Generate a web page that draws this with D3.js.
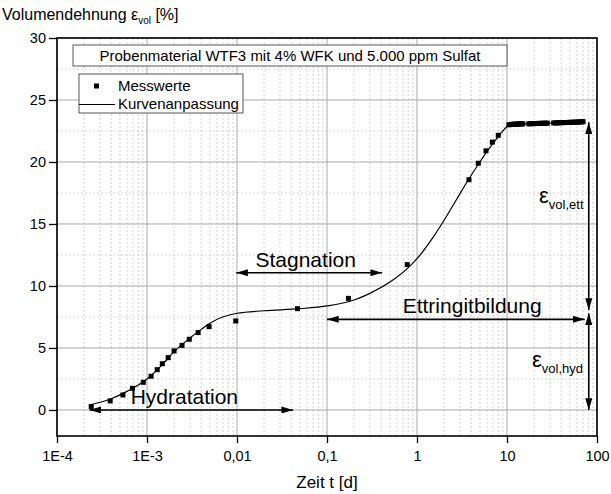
<!DOCTYPE html>
<html>
<head>
<meta charset="utf-8">
<script src="https://cdn.jsdelivr.net/npm/d3@7"></script>
<style>
body { margin: 0; background: #fff; }
text { font-family: "Liberation Sans", Arial, sans-serif; fill: #000; }
</style>
</head>
<body>
<svg id="chart" width="611" height="494"></svg>
<script>
// x ticks (days, log) and their labels
var xTicks = [1e-4, 1e-3, 0.01, 0.1, 1, 10, 100];
var xTickLabels = ["1E-4", "1E-3", "0,01", "0,1", "1", "10", "100"];
var yTicks = [0, 5, 10, 15, 20, 25, 30];

// Messwerte
var measT = [2.4e-4, 3.9e-4, 5.4e-4, 6.9e-4, 9.1e-4, 1.11e-3, 1.30e-3, 1.48e-3, 1.72e-3, 2.0e-3,
             2.45e-3, 2.95e-3, 3.7e-3, 4.9e-3, 9.7e-3, 0.047, 0.173, 0.78, 3.78, 4.8, 5.84, 6.87, 8.0,
             10.5, 11, 11.5, 12, 12.5, 13, 13.5, 14, 14.5, 15,
             17.5, 18.2, 19, 19.8, 20.6, 21.4, 22.2, 23, 24, 25, 26, 27, 28,
             33, 34.5, 36, 37.5, 39, 41, 43, 45, 47, 49, 51, 53, 55, 57.5, 60, 62.5, 65, 67.5, 70];
var measY = [0.27, 0.73, 1.21, 1.75, 2.23, 2.72, 3.25, 3.73, 4.22, 4.76,
             5.21, 5.70, 6.24, 6.72, 7.18, 8.17, 9.0, 11.72, 18.57, 19.9, 20.9, 21.6, 22.15,
             23.0, 23.02, 23.04, 23.05, 23.05, 23.06, 23.06, 23.07, 23.07, 23.08,
             23.08, 23.09, 23.09, 23.1, 23.1, 23.1, 23.11, 23.11, 23.12, 23.12, 23.12, 23.13, 23.13,
             23.15, 23.15, 23.16, 23.16, 23.17, 23.17, 23.18, 23.18, 23.19, 23.19, 23.2, 23.2, 23.21, 23.21, 23.22, 23.22, 23.23, 23.24, 23.25];

// Kurvenanpassung
var fitT = [2.3e-4, 4e-4, 6e-4, 1e-3, 1.5e-3, 2e-3, 3e-3, 4e-3, 5e-3, 0.01, 0.02, 0.05, 0.1, 0.2, 0.3,
            0.545, 0.78, 1, 1.5, 2, 2.76, 3.78, 5, 6, 8, 10, 12, 20, 40, 70];
var fitY = [0.4, 0.9, 1.5, 2.5, 3.7, 4.7, 5.8, 6.5, 7.0, 7.8, 8.0, 8.17, 8.39, 8.87, 9.4,
            10.5, 11.4, 12.2, 13.9, 15.3, 17.0, 18.65, 20.0, 20.85, 22.05, 22.85, 23.05, 23.1, 23.17, 23.25];

// annotation arrows: [t1, y1, t2, y2]
var arrows = [
  [2.3e-4, 0, 0.042, 0],
  [0.0098, 11.07, 0.41, 11.07],
  [0.1, 7.31, 73, 7.31],
  [81, 23.2, 81, 8.06],
  [81, 7.8, 81, 0]
];
var arrowLabels = [
  {text: "Hydratation", t: 0.0026, y: 0.45},
  {text: "Stagnation", t: 0.058, y: 11.55},
  {text: "Ettringitbildung", t: 4.1, y: 7.8}
];

var svg = d3.select("#chart");
var plot = {left: 57, right: 597, top: 38, bottom: 436};

var xScale = d3.scaleLog().domain([1e-4, 100]).range([plot.left, plot.right]);
var yScale = d3.scaleLinear().domain([-2.1, 30]).range([plot.bottom, plot.top]);

// minor grid values
var xMinor = [];
xTicks.slice(0, -1).forEach(function (d) {
  for (var k = 2; k <= 9; k++) xMinor.push(d * k);
});
var yMinor = yTicks.map(function (d) { return d + 2.5; }).filter(function (d) { return d < 30; });

var grid = svg.append("g");
grid.selectAll(".vminor").data(xMinor).enter().append("line")
  .attr("x1", function (d) { return xScale(d); })
  .attr("x2", function (d) { return xScale(d); })
  .attr("y1", plot.top).attr("y2", plot.bottom)
  .attr("stroke", "#d4d4d4").attr("stroke-dasharray", "2,2").attr("stroke-width", 1);
grid.selectAll(".hminor").data(yMinor).enter().append("line")
  .attr("x1", plot.left).attr("x2", plot.right)
  .attr("y1", function (d) { return yScale(d); })
  .attr("y2", function (d) { return yScale(d); })
  .attr("stroke", "#d4d4d4").attr("stroke-dasharray", "2,2").attr("stroke-width", 1);
grid.selectAll(".vmajor").data(xTicks).enter().append("line")
  .attr("x1", function (d) { return xScale(d); })
  .attr("x2", function (d) { return xScale(d); })
  .attr("y1", plot.top).attr("y2", plot.bottom)
  .attr("stroke", "#aaa").attr("stroke-width", 1);
grid.selectAll(".hmajor").data(yTicks).enter().append("line")
  .attr("x1", plot.left).attr("x2", plot.right)
  .attr("y1", function (d) { return yScale(d); })
  .attr("y2", function (d) { return yScale(d); })
  .attr("stroke", "#aaa").attr("stroke-width", 1);

// axes
var xAxis = d3.axisBottom(xScale).tickValues(xTicks)
  .tickFormat(function (d, i) { return xTickLabels[i]; })
  .tickSize(7).tickPadding(8);
var xAxisMinor = d3.axisBottom(xScale).tickValues(xMinor).tickFormat("").tickSize(4);
var yAxis = d3.axisLeft(yScale).tickValues(yTicks).tickSize(8).tickPadding(3);
var yAxisMinor = d3.axisLeft(yScale).tickValues(yMinor).tickFormat("").tickSize(4);

var gx = svg.append("g").attr("transform", "translate(0," + plot.bottom + ")");
gx.call(xAxisMinor);
gx.call(xAxis);
var gy = svg.append("g").attr("transform", "translate(" + plot.left + ",0)");
gy.call(yAxisMinor);
gy.call(yAxis);
svg.selectAll(".domain").remove();
svg.selectAll(".tick line").attr("stroke", "#000").attr("stroke-width", 1.3);
svg.selectAll(".tick text").style("font-size", "14.5px").style("font-family", "Liberation Sans, Arial, sans-serif");

// frame
svg.append("rect")
  .attr("x", plot.left).attr("y", plot.top)
  .attr("width", plot.right - plot.left).attr("height", plot.bottom - plot.top)
  .attr("fill", "none").attr("stroke", "#000").attr("stroke-width", 1.6);

// fit line
var fitData = fitT.map(function (t, i) { return [t, fitY[i]]; });
var line = d3.line()
  .x(function (d) { return xScale(d[0]); })
  .y(function (d) { return yScale(d[1]); })
  .curve(d3.curveMonotoneX);
svg.append("path").datum(fitData)
  .attr("d", line).attr("fill", "none").attr("stroke", "#000").attr("stroke-width", 1.2);

// measured points
var measData = measT.map(function (t, i) { return [t, measY[i]]; });
svg.append("g").selectAll("rect").data(measData).enter().append("rect")
  .attr("x", function (d) { return xScale(d[0]) - 2.5; })
  .attr("y", function (d) { return yScale(d[1]) - 2.5; })
  .attr("width", 5).attr("height", 5).attr("fill", "#000");

// arrows
var defs = svg.append("defs");
defs.append("marker").attr("id", "head")
  .attr("viewBox", "0 0 10 6").attr("refX", 10).attr("refY", 3)
  .attr("markerWidth", 12).attr("markerHeight", 7).attr("markerUnits", "userSpaceOnUse")
  .attr("orient", "auto-start-reverse")
  .append("path").attr("d", "M0,0 L10,3 L0,6 Z").attr("fill", "#000");

svg.append("g").selectAll("line").data(arrows).enter().append("line")
  .attr("x1", function (d) { return xScale(d[0]); })
  .attr("y1", function (d) { return yScale(d[1]); })
  .attr("x2", function (d) { return xScale(d[2]); })
  .attr("y2", function (d) { return yScale(d[3]); })
  .attr("stroke", "#000").attr("stroke-width", 1.6)
  .attr("marker-start", "url(#head)").attr("marker-end", "url(#head)");

svg.append("g").selectAll("text").data(arrowLabels).enter().append("text")
  .attr("x", function (d) { return xScale(d.t); })
  .attr("y", function (d) { return yScale(d.y); })
  .attr("text-anchor", "middle")
  .style("font-size", "21px")
  .text(function (d) { return d.text; });

// epsilon labels
var eps1 = svg.append("text").attr("x", 539).attr("y", 203).style("font-size", "22px");
eps1.append("tspan").text("\u03b5");
eps1.append("tspan").attr("dy", 6).style("font-size", "13px").text("vol,ett");
var eps2 = svg.append("text").attr("x", 532).attr("y", 367).style("font-size", "22px");
eps2.append("tspan").text("\u03b5");
eps2.append("tspan").attr("dy", 6).style("font-size", "13px").text("vol,hyd");

// title box
svg.append("rect").attr("x", 73).attr("y", 45).attr("width", 434).attr("height", 21)
  .attr("fill", "#fff").attr("stroke", "#555").attr("stroke-width", 1);
svg.append("text").attr("x", 290).attr("y", 61).attr("text-anchor", "middle")
  .style("font-size", "15px").text("Probenmaterial WTF3 mit 4% WFK und 5.000 ppm Sulfat");

// legend
var legend = svg.append("g");
legend.append("rect").attr("x", 79).attr("y", 74).attr("width", 164).attr("height", 39)
  .attr("fill", "#fff").attr("stroke", "#555").attr("stroke-width", 1);
legend.append("rect").attr("x", 94).attr("y", 83.5).attr("width", 5).attr("height", 5).attr("fill", "#000");
legend.append("text").attr("x", 118).attr("y", 91).style("font-size", "15px").text("Messwerte");
legend.append("line").attr("x1", 79).attr("x2", 115).attr("y1", 104.5).attr("y2", 104.5)
  .attr("stroke", "#000").attr("stroke-width", 1.2);
legend.append("text").attr("x", 118).attr("y", 109).style("font-size", "15px").text("Kurvenanpassung");

// axis titles
var yt = svg.append("text").attr("x", 2).attr("y", 20).style("font-size", "16px");
yt.append("tspan").text("Volumendehnung \u03b5");
yt.append("tspan").attr("dy", 4).style("font-size", "10px").text("vol");
yt.append("tspan").attr("dy", -4).text(" [%]");

svg.append("text").attr("x", 327).attr("y", 488).attr("text-anchor", "middle")
  .style("font-size", "17px").text("Zeit t [d]");
</script>
</body>
</html>
